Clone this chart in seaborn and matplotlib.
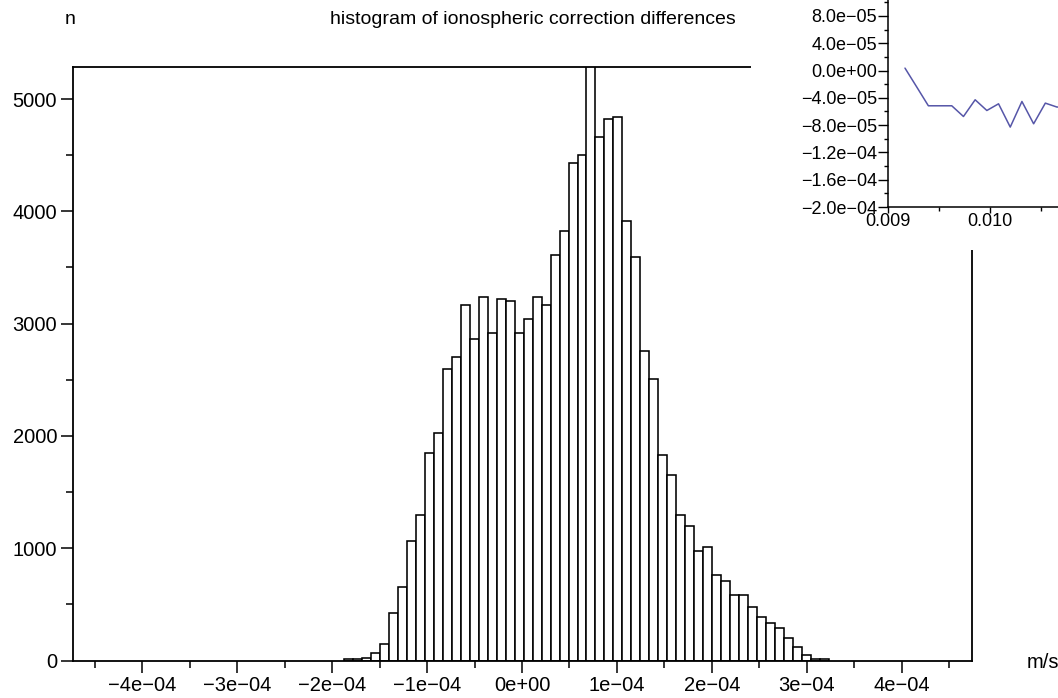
import numpy as np
import pandas as pd
import matplotlib
matplotlib.use("Agg")
import matplotlib.pyplot as plt
import seaborn as sns
from matplotlib.ticker import FixedLocator, FuncFormatter

# ---------------- data ----------------
bin_start = -1.876e-4          # left edge of the first bin
bin_width = 9.463e-6           # width of each bin
counts = [12, 15, 18, 70, 150, 425, 655, 1065, 1295, 1850,
          2025, 2598, 2705, 3165, 2862, 3237, 2915, 3219, 3205, 2915,
          3043, 3237, 3165, 3613, 3826, 4433, 4502, 5600, 4665, 4822,
          4837, 3915, 3596, 2758, 2510, 1833, 1652, 1296, 1195, 976,
          1014, 765, 712, 587, 587, 480, 391, 335, 285, 196,
          121, 47, 15, 12]

x_ticks = [-4e-4, -3e-4, -2e-4, -1e-4, 0.0, 1e-4, 2e-4, 3e-4, 4e-4]
x_minor = [-4.5e-4, -3.5e-4, -2.5e-4, -1.5e-4, -0.5e-4, 0.5e-4, 1.5e-4, 2.5e-4, 3.5e-4, 4.5e-4]
y_ticks = [0, 1000, 2000, 3000, 4000, 5000]
y_minor = [500, 1500, 2500, 3500, 4500]

inset_x = [0.009164, 0.009279, 0.009394, 0.009509, 0.009624, 0.009739, 0.009854,
           0.009969, 0.010084, 0.010199, 0.010314, 0.010429, 0.010544, 0.010659, 0.010774]
inset_y = [3.5e-6, -2.4e-5, -5.17e-5, -5.17e-5, -5.17e-5, -6.74e-5, -4.29e-5,
           -5.86e-5, -4.88e-5, -8.29e-5, -4.54e-5, -7.81e-5, -4.78e-5, -5.36e-5, -5.2e-5]
inset_y_ticks = [-2.0e-4, -1.6e-4, -1.2e-4, -8.0e-5, -4.0e-5, 0.0, 4.0e-5, 8.0e-5]
inset_y_minor = [-1.8e-4, -1.4e-4, -1.0e-4, -6.0e-5, -2.0e-5, 2.0e-5, 6.0e-5, 1.0e-4]
inset_x_ticks = [0.009, 0.010]
inset_x_minor = [0.0095, 0.0105]

title = "histogram of ionospheric correction differences"
y_label = "n"
x_label = "m/s"

# ---------------- style ----------------
sns.set_theme(style="white")
plt.rcParams['font.family'] = ['Liberation Sans', 'DejaVu Sans']

W, H = 1058, 698
fig = plt.figure(figsize=(W / 100, H / 100), dpi=100)
fig.patch.set_facecolor("white")

def fx(px):
    return px / W

def fy(py):
    return 1 - py / H

# main axes: left 73, right 972, top 67, bottom 660.5 (pixels)
ax = fig.add_axes([fx(73), fy(660.5), (972 - 73) / W, (660.5 - 67) / H])

edges = bin_start + bin_width * np.arange(len(counts) + 1)
centers = (edges[:-1] + edges[1:]) / 2
df = pd.DataFrame({"diff": centers, "n": counts})
sns.histplot(data=df, x="diff", weights="n", bins=[float(e) for e in edges], stat="count",
             color="white", edgecolor="black", linewidth=1.15, alpha=1, ax=ax)

ax.set_xlim(-4.73e-4, 4.74e-4)
ax.set_ylim(0, 5285)
ax.set_xlabel("")
ax.set_ylabel("")
ax.xaxis.set_major_locator(FixedLocator(x_ticks))
ax.xaxis.set_minor_locator(FixedLocator(x_minor))
ax.yaxis.set_major_locator(FixedLocator(y_ticks))
ax.yaxis.set_minor_locator(FixedLocator(y_minor))
ax.xaxis.set_major_formatter(FuncFormatter(lambda v, p: f"{v:.0e}".replace("-", "\u2212")))
ax.yaxis.set_major_formatter(FuncFormatter(lambda v, p: f"{v:.0f}"))
for s in ax.spines.values():
    s.set_visible(True)
    s.set_color("black")
    s.set_linewidth(1.3)
ax.tick_params(which="both", direction="out", color="black", width=1.1,
               bottom=True, left=True, top=False, right=False, labelcolor="black")
ax.tick_params(which="major", length=8.5, labelsize=14.5, pad=3)
ax.tick_params(which="minor", length=5)

# white panel of the inset
bg = fig.add_axes([fx(751), fy(250), (W - 751) / W, 250 / H])
bg.set_facecolor("white")
bg.set_xticks([])
bg.set_yticks([])
for s in bg.spines.values():
    s.set_visible(False)

# inset line plot
ix0, iy0 = 888.3, 207
ax_w = (0.0112 - 0.009) / 0.001 * 101.7
ax_h = (1.2e-4 + 2.0e-4) / 4e-5 * 27.3
iax = fig.add_axes([fx(ix0), fy(iy0), ax_w / W, ax_h / H])
iax.set_facecolor("none")
sns.lineplot(x=inset_x, y=inset_y, color="#5656a8", linewidth=1.1, ax=iax)
iax.set_xlim(0.009, 0.0112)
iax.set_ylim(-2.0e-4, 1.2e-4)
iax.xaxis.set_major_locator(FixedLocator(inset_x_ticks))
iax.xaxis.set_minor_locator(FixedLocator(inset_x_minor))
iax.yaxis.set_major_locator(FixedLocator(inset_y_ticks))
iax.yaxis.set_minor_locator(FixedLocator(inset_y_minor))
iax.xaxis.set_major_formatter(FuncFormatter(lambda v, p: f"{v:.3f}"))
iax.yaxis.set_major_formatter(FuncFormatter(lambda v, p: f"{v:.1e}".replace("-", "\u2212")))
for k in ("top", "right"):
    iax.spines[k].set_visible(False)
for k in ("left", "bottom"):
    iax.spines[k].set_visible(True)
    iax.spines[k].set_color("black")
    iax.spines[k].set_linewidth(1.1)
iax.tick_params(which="both", direction="out", color="black", width=1.0,
                bottom=True, left=True, top=False, right=False, labelcolor="black")
iax.tick_params(axis="y", which="major", length=7, labelsize=13, pad=1)
iax.tick_params(axis="y", which="minor", length=3)
iax.tick_params(axis="x", which="major", length=4, labelsize=13, pad=0.5)
iax.tick_params(axis="x", which="minor", length=3)

# free texts
fig.text(fx(70), fy(19), y_label, ha="center", va="center", fontsize=14, color="black")
fig.text(fx(533), fy(19), title, ha="center", va="center", fontsize=14, color="black")
fig.text(fx(1027), fy(663), x_label, ha="left", va="center", fontsize=14.5, color="black")

fig.savefig("out.png", dpi=100, facecolor="white")
